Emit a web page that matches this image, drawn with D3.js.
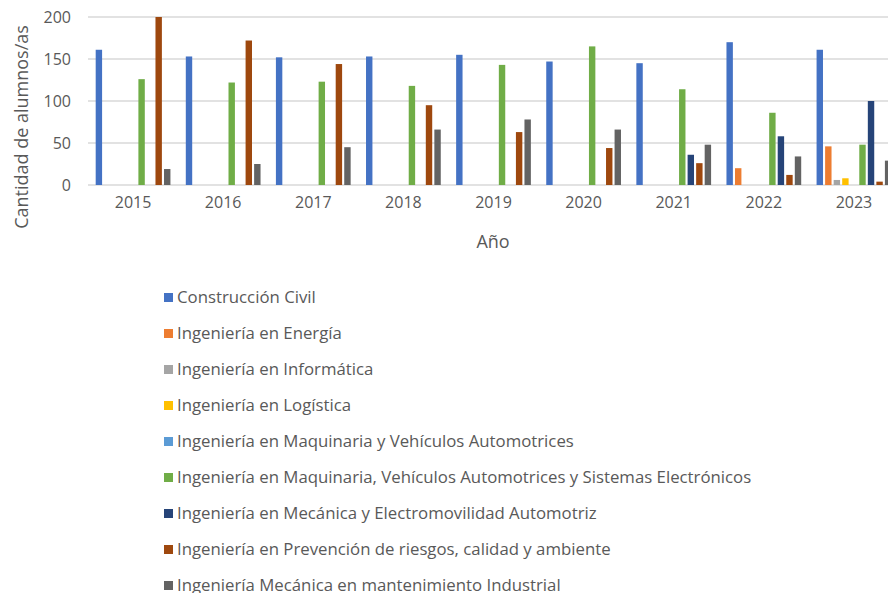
<!DOCTYPE html>
<html>
<head>
<meta charset="utf-8">
<script src="https://cdn.jsdelivr.net/npm/d3@7"></script>
<style>
    body { margin: 0; background: #ffffff; }
    text { font-family: "Open Sans", sans-serif; fill: #595959; }
</style>
</head>
<body>
<div id="wrapper"></div>
<script>
const years = ["2015", "2016", "2017", "2018", "2019", "2020", "2021", "2022", "2023"];

const seriesNames = [
    "Construcción Civil",
    "Ingeniería en Energía",
    "Ingeniería en Informática",
    "Ingeniería en Logística",
    "Ingeniería en Maquinaria y Vehículos Automotrices",
    "Ingeniería en Maquinaria, Vehículos Automotrices y Sistemas Electrónicos",
    "Ingeniería en Mecánica y Electromovilidad Automotriz",
    "Ingeniería en Prevención de riesgos, calidad y ambiente",
    "Ingeniería Mecánica en mantenimiento Industrial",
];

// valores por serie, en el orden de years
const construccionCivil = [161, 153, 152, 153, 155, 147, 145, 170, 161];
const energia = [0, 0, 0, 0, 0, 0, 0, 20, 46];
const informatica = [0, 0, 0, 0, 0, 0, 0, 0, 6];
const logistica = [0, 0, 0, 0, 0, 0, 0, 0, 8];
const maquinariaVehiculos = [0, 0, 0, 0, 0, 0, 0, 0, 0];
const maquinariaSistemas = [126, 122, 123, 118, 143, 165, 114, 86, 48];
const electromovilidad = [0, 0, 0, 0, 0, 0, 36, 58, 100];
const prevencionRiesgos = [200, 172, 144, 95, 63, 44, 26, 12, 4];
const mantenimientoIndustrial = [19, 25, 45, 66, 78, 66, 48, 34, 29];

const seriesValues = [
    construccionCivil, energia, informatica, logistica, maquinariaVehiculos,
    maquinariaSistemas, electromovilidad, prevencionRiesgos, mantenimientoIndustrial,
];

const yTicks = [0, 50, 100, 150, 200];

const colors = ["#4472C4", "#ED7D31", "#A5A5A5", "#FFC000", "#5B9BD5",
    "#70AD47", "#264478", "#9E480E", "#636363"];

function buildPlot() {
    const data = years.map((year, i) => ({
        year: year,
        values: seriesNames.map((name, s) => ({ name: name, value: seriesValues[s][i] })),
    }));

    const dimensions = {
        width: 888,
        height: 593,
        plotLeft: 88,
        plotRight: 899,
        plotTop: 17,
        plotBottom: 185,
    };

    const wrapper = d3.select("#wrapper")
        .append("svg")
        .attr("width", dimensions.width)
        .attr("height", dimensions.height);

    const x0 = d3.scaleBand()
        .domain(years)
        .range([dimensions.plotLeft, dimensions.plotRight]);

    const x1 = d3.scaleBand()
        .domain(seriesNames)
        .range([0, x0.bandwidth()])
        .paddingInner(0.25)
        .paddingOuter(0.9);

    const yScale = d3.scaleLinear()
        .domain([0, 200])
        .range([dimensions.plotBottom, dimensions.plotTop]);

    const color = d3.scaleOrdinal().domain(seriesNames).range(colors);

    // lineas de grilla
    wrapper.append("g")
        .selectAll("line")
        .data(yTicks)
        .join("line")
        .attr("x1", dimensions.plotLeft)
        .attr("x2", dimensions.width)
        .attr("y1", (d) => yScale(d))
        .attr("y2", (d) => yScale(d))
        .attr("stroke", "#D9D9D9")
        .attr("stroke-width", 1.3);

    const groups = wrapper.append("g")
        .selectAll("g")
        .data(data)
        .join("g")
        .attr("transform", (d) => `translate(${x0(d.year)},0)`);

    groups.selectAll("rect")
        .data((d) => d.values.filter((v) => v.value > 0))
        .join("rect")
        .attr("x", (d) => x1(d.name))
        .attr("width", x1.bandwidth())
        .attr("y", (d) => yScale(d.value))
        .attr("height", (d) => yScale(0) - yScale(d.value))
        .attr("fill", (d) => color(d.name));

    const yAxisGenerator = d3.axisLeft(yScale)
        .tickValues(yTicks)
        .tickSize(0)
        .tickPadding(17);
    const yAxis = wrapper.append("g")
        .attr("transform", `translate(${dimensions.plotLeft},0)`)
        .call(yAxisGenerator);
    yAxis.select(".domain").remove();
    yAxis.selectAll("text")
        .style("font-size", "16px")
        .style("font-family", "Open Sans")
        .attr("fill", "#595959");

    const xAxisGenerator = d3.axisBottom(x0).tickSize(0).tickPadding(12);
    const xAxis = wrapper.append("g")
        .attr("transform", `translate(0,${dimensions.plotBottom})`)
        .call(xAxisGenerator);
    xAxis.select(".domain").remove();
    xAxis.selectAll("text")
        .style("font-size", "16px")
        .style("font-family", "Open Sans")
        .attr("fill", "#595959");

    wrapper.append("text")
        .attr("x", 493)
        .attr("y", 248)
        .attr("text-anchor", "middle")
        .style("font-size", "18px")
        .text("Año");

    wrapper.append("text")
        .attr("transform", "translate(28,127) rotate(-90)")
        .attr("text-anchor", "middle")
        .style("font-size", "18px")
        .text("Cantidad de alumnos/as");

    // leyenda
    const legend = wrapper.append("g")
        .selectAll("g")
        .data(seriesNames)
        .join("g")
        .attr("transform", (d, i) => `translate(164,${293 + i * 36})`);

    legend.append("rect")
        .attr("width", 9)
        .attr("height", 9)
        .attr("fill", (d) => color(d));

    legend.append("text")
        .attr("x", 13)
        .attr("y", 10)
        .style("font-size", "16.8px")
        .text((d) => d);
}

buildPlot();
</script>
</body>
</html>
